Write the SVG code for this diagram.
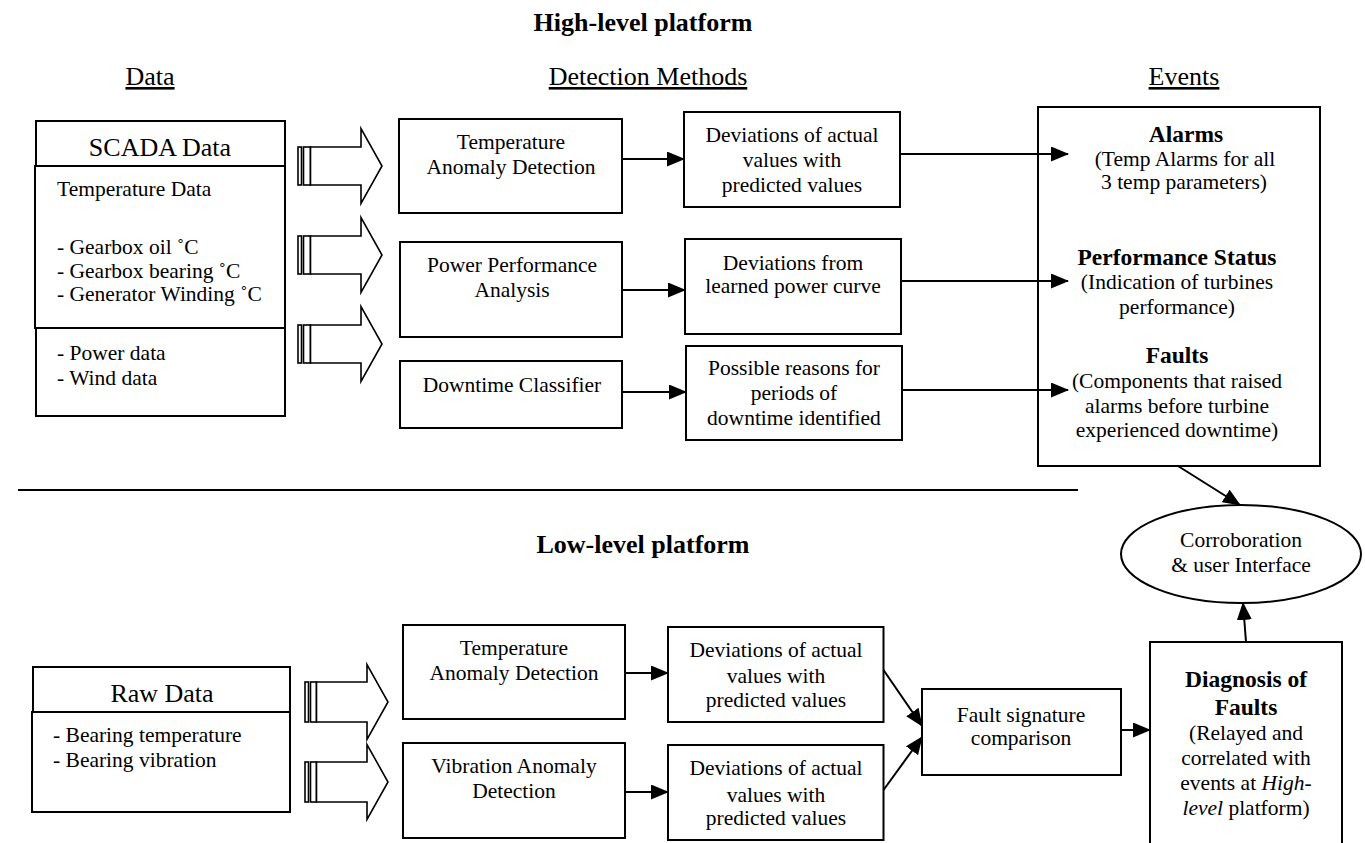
<svg xmlns="http://www.w3.org/2000/svg" width="1365" height="843" viewBox="0 0 1365 843">
<style>
text{font-family:"Liberation Serif","Times New Roman",serif;fill:#000}
.t{font-size:21.5px}
.c{text-anchor:middle}
.b{font-weight:bold;font-size:23.5px}
.h{font-size:26px;text-decoration:underline}
.ttl{font-size:26px;font-weight:bold;text-anchor:middle}
.box{fill:#fff;stroke:#000;stroke-width:2}
.ln{fill:none;stroke:#000;stroke-width:2}
.blk{fill:#fff;stroke:#000;stroke-width:1.6}
</style>
<defs>
<marker id="ah" markerUnits="userSpaceOnUse" markerWidth="18" markerHeight="15" refX="17" refY="7.5" orient="auto">
<path d="M0,0 L18,7.5 L0,15 Z" fill="#000"/>
</marker>
</defs>
<rect width="1365" height="843" fill="#fff"/>

<g id="titles">
<text class="ttl" x="643" y="31">High-level platform</text>
<text class="ttl" x="643" y="553">Low-level platform</text>
<text class="h c" x="150" y="85">Data</text>
<text class="h c" x="648" y="85">Detection Methods</text>
<text class="h c" x="1184" y="85">Events</text>
</g>

<g id="separator">
<line class="ln" x1="18" y1="490" x2="1078" y2="490"/>
</g>

<g id="scada">
<rect class="box" x="36" y="121" width="249" height="45"/>
<rect class="box" x="35" y="166" width="250" height="162"/>
<rect class="box" x="36" y="328" width="249" height="88"/>
<text class="c" x="160" y="156" font-size="26">SCADA Data</text>
<text class="t" x="57" y="196">Temperature Data</text>
<text class="t" x="57" y="254">- Gearbox oil ˚C</text>
<text class="t" x="57" y="278">- Gearbox bearing ˚C</text>
<text class="t" x="57" y="301">- Generator Winding ˚C</text>
<text class="t" x="57" y="360">- Power data</text>
<text class="t" x="57" y="385">- Wind data</text>
</g>

<g id="rawdata">
<rect class="box" x="33" y="667" width="257" height="45"/>
<rect class="box" x="32" y="712" width="258" height="100"/>
<text class="c" x="162" y="702" font-size="26">Raw Data</text>
<text class="t" x="53" y="742">- Bearing temperature</text>
<text class="t" x="53" y="767">- Bearing vibration</text>
</g>

<g id="blockarrows">
<g id="ba1">
<rect class="blk" x="298" y="147" width="3.5" height="38"/>
<rect class="blk" x="303.5" y="147" width="7" height="38"/>
<path class="blk" d="M310.5,147 L361,147 L361,128.5 L382,166 L361,203.5 L361,185 L310.5,185 Z"/>
</g>
<g id="ba2">
<rect class="blk" x="298" y="236" width="3.5" height="38"/>
<rect class="blk" x="303.5" y="236" width="7" height="38"/>
<path class="blk" d="M310.5,236 L361,236 L361,217.5 L382,255 L361,292.5 L361,274 L310.5,274 Z"/>
</g>
<g id="ba3">
<rect class="blk" x="298" y="325" width="3.5" height="38"/>
<rect class="blk" x="303.5" y="325" width="7" height="38"/>
<path class="blk" d="M310.5,325 L361,325 L361,306.5 L382,344 L361,381.5 L361,363 L310.5,363 Z"/>
</g>
<g id="ba4">
<rect class="blk" x="305" y="682" width="3.5" height="40"/>
<rect class="blk" x="310.5" y="682" width="6" height="40"/>
<path class="blk" d="M316.5,682 L367,682 L367,664.5 L388,702 L367,739.5 L367,722 L316.5,722 Z"/>
</g>
<g id="ba5">
<rect class="blk" x="305" y="762" width="3.5" height="40"/>
<rect class="blk" x="310.5" y="762" width="6" height="40"/>
<path class="blk" d="M316.5,762 L367,762 L367,744.5 L388,782 L367,819.5 L367,802 L316.5,802 Z"/>
</g>
</g>

<g id="tad">
<rect class="box" x="399" y="119" width="223" height="94"/>
<text class="t c" x="511" y="149">Temperature</text>
<text class="t c" x="511" y="174">Anomaly Detection</text>
</g>
<g id="ppa">
<rect class="box" x="400" y="242" width="222" height="95"/>
<text class="t c" x="512" y="272">Power Performance</text>
<text class="t c" x="512" y="297">Analysis</text>
</g>
<g id="dtc">
<rect class="box" x="400" y="361" width="222" height="67"/>
<text class="t c" x="512" y="392">Downtime Classifier</text>
</g>

<g id="dev1">
<rect class="box" x="684" y="112" width="216" height="95"/>
<text class="t c" x="792" y="142">Deviations of actual</text>
<text class="t c" x="792" y="167">values with</text>
<text class="t c" x="792" y="192">predicted values</text>
</g>
<g id="devfrom">
<rect class="box" x="685" y="239" width="216" height="95"/>
<text class="t c" x="793" y="270">Deviations from</text>
<text class="t c" x="793" y="293">learned power curve</text>
</g>
<g id="possible">
<rect class="box" x="686" y="346" width="216" height="94"/>
<text class="t c" x="794" y="375">Possible reasons for</text>
<text class="t c" x="794" y="400">periods of</text>
<text class="t c" x="794" y="425">downtime identified</text>
</g>

<g id="events">
<rect class="box" x="1038" y="107" width="282" height="359"/>
<text class="b c" x="1186" y="142">Alarms</text>
<text class="t c" x="1185" y="166">(Temp Alarms for all</text>
<text class="t c" x="1184" y="189">3 temp parameters)</text>
<text class="b c" x="1177" y="265">Performance Status</text>
<text class="t c" x="1177" y="289">(Indication of turbines</text>
<text class="t c" x="1177" y="314">performance)</text>
<text class="b c" x="1177" y="363">Faults</text>
<text class="t c" x="1177" y="388">(Components that raised</text>
<text class="t c" x="1177" y="413">alarms before turbine</text>
<text class="t c" x="1177" y="437">experienced downtime)</text>
</g>

<g id="corroboration">
<ellipse class="box" cx="1241" cy="554" rx="120" ry="49"/>
<text class="t c" x="1241" y="547">Corroboration</text>
<text class="t c" x="1241" y="572">&amp; user Interface</text>
</g>

<g id="tadlow">
<rect class="box" x="403" y="625" width="222" height="94"/>
<text class="t c" x="514" y="655">Temperature</text>
<text class="t c" x="514" y="680">Anomaly Detection</text>
</g>
<g id="vad">
<rect class="box" x="403" y="743" width="222" height="95"/>
<text class="t c" x="514" y="773">Vibration Anomaly</text>
<text class="t c" x="514" y="798">Detection</text>
</g>
<g id="devl1">
<rect class="box" x="668" y="627" width="215.5" height="95"/>
<text class="t c" x="776" y="657">Deviations of actual</text>
<text class="t c" x="776" y="683">values with</text>
<text class="t c" x="776" y="707">predicted values</text>
</g>
<g id="devl2">
<rect class="box" x="668" y="745" width="215.5" height="95"/>
<text class="t c" x="776" y="775">Deviations of actual</text>
<text class="t c" x="776" y="802">values with</text>
<text class="t c" x="776" y="825">predicted values</text>
</g>
<g id="fsc">
<rect class="box" x="922" y="689" width="199" height="86"/>
<text class="t c" x="1021" y="722">Fault signature</text>
<text class="t c" x="1021" y="745">comparison</text>
</g>
<g id="diagnosis">
<rect class="box" x="1150" y="642" width="192" height="210"/>
<text class="b c" x="1246" y="687">Diagnosis of</text>
<text class="b c" x="1246" y="715">Faults</text>
<text class="t c" x="1246" y="740">(Relayed and</text>
<text class="t c" x="1246" y="765">correlated with</text>
<text class="t c" x="1246" y="790">events at <tspan font-style="italic">High-</tspan></text>
<text class="t c" x="1246" y="815"><tspan font-style="italic">level</tspan> platform)</text>
</g>

<g id="connectors">
<line class="ln" x1="622" y1="159" x2="684" y2="159" marker-end="url(#ah)"/>
<line class="ln" x1="622" y1="290" x2="685" y2="290" marker-end="url(#ah)"/>
<line class="ln" x1="622" y1="392" x2="686" y2="392" marker-end="url(#ah)"/>
<line class="ln" x1="900" y1="154" x2="1068" y2="154" marker-end="url(#ah)"/>
<line class="ln" x1="901" y1="281" x2="1068" y2="281" marker-end="url(#ah)"/>
<line class="ln" x1="902" y1="390" x2="1068" y2="390" marker-end="url(#ah)"/>
<line class="ln" x1="1178" y1="466" x2="1240" y2="505" marker-end="url(#ah)"/>
<line class="ln" x1="1246" y1="642" x2="1243" y2="603" marker-end="url(#ah)"/>
<line class="ln" x1="625" y1="673" x2="668" y2="673" marker-end="url(#ah)"/>
<line class="ln" x1="625" y1="792" x2="668" y2="792" marker-end="url(#ah)"/>
<line class="ln" x1="883.5" y1="670" x2="922" y2="726" marker-end="url(#ah)"/>
<line class="ln" x1="883.5" y1="790" x2="922" y2="737" marker-end="url(#ah)"/>
<line class="ln" x1="1121" y1="730" x2="1150" y2="730" marker-end="url(#ah)"/>
</g>
</svg>
